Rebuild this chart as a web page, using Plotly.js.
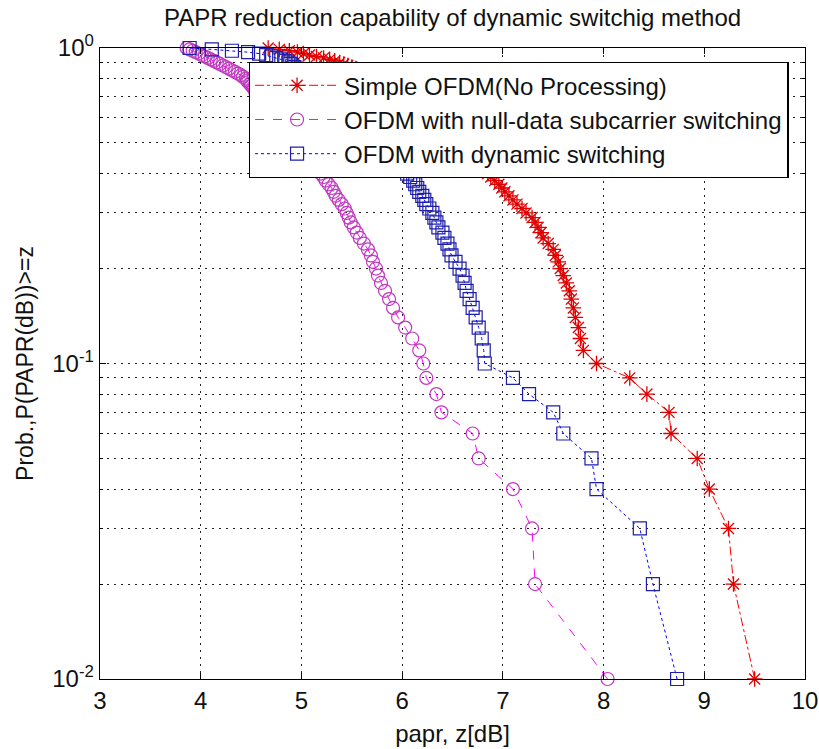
<!DOCTYPE html>
<html>
<head>
<meta charset="utf-8">
<script src="https://cdn.plot.ly/plotly-3.0.1.min.js"></script>
<style>html,body{margin:0;padding:0;background:#fff;}#chart{width:819px;height:749px;}</style>
</head>
<body>
<div id="chart"></div>
<script>
// Probability levels P(PAPR >= z), from 0.01 up to 1.00
const probLevels = [
 0.01,0.02,0.03,0.04,0.05,0.06,0.07,0.08,0.09,0.10,
 0.11,0.12,0.13,0.14,0.15,0.16,0.17,0.18,0.19,0.20,
 0.21,0.22,0.23,0.24,0.25,0.26,0.27,0.28,0.29,0.30,
 0.31,0.32,0.33,0.34,0.35,0.36,0.37,0.38,0.39,0.40,
 0.41,0.42,0.43,0.44,0.45,0.46,0.47,0.48,0.49,0.50,
 0.51,0.52,0.53,0.54,0.55,0.56,0.57,0.58,0.59,0.60,
 0.61,0.62,0.63,0.64,0.65,0.66,0.67,0.68,0.69,0.70,
 0.71,0.72,0.73,0.74,0.75,0.76,0.77,0.78,0.79,0.80,
 0.81,0.82,0.83,0.84,0.85,0.86,0.87,0.88,0.89,0.90,
 0.91,0.92,0.93,0.94,0.95,0.96,0.97,0.98,0.99,1.00
];

// PAPR z [dB] for each probability level
const paprSimple = [
 9.50,9.29,9.24,9.05,8.93,8.67,8.65,8.43,8.26,7.93,
 7.80,7.77,7.75,7.72,7.70,7.68,7.66,7.63,7.60,7.57,
 7.55,7.52,7.50,7.45,7.40,7.38,7.35,7.32,7.29,7.23,
 7.19,7.14,7.10,7.06,7.02,6.99,6.96,6.92,6.88,6.85,
 6.81,6.77,6.74,6.71,6.69,6.67,6.64,6.62,6.60,6.58,
 6.56,6.54,6.52,6.49,6.47,6.45,6.42,6.40,6.37,6.35,
 6.32,6.30,6.27,6.25,6.22,6.19,6.16,6.13,6.10,6.07,
 6.04,6.01,5.98,5.95,5.92,5.89,5.86,5.83,5.80,5.76,
 5.73,5.69,5.66,5.62,5.58,5.54,5.50,5.46,5.42,5.38,
 5.33,5.28,5.22,5.15,5.08,5.02,4.96,4.88,4.78,4.67
];
const paprNull = [
 8.04,7.32,7.29,7.10,6.76,6.70,6.39,6.34,6.24,6.21,
 6.17,6.10,6.03,5.96,5.91,5.87,5.83,5.79,5.76,5.74,
 5.71,5.69,5.66,5.62,5.58,5.55,5.52,5.49,5.47,5.45,
 5.43,5.40,5.37,5.34,5.32,5.30,5.27,5.24,5.22,5.19,
 5.16,5.14,5.12,5.10,5.08,5.06,5.04,5.02,5.00,4.98,
 4.96,4.94,4.92,4.90,4.88,4.86,4.84,4.82,4.80,4.78,
 4.76,4.74,4.72,4.70,4.68,4.66,4.64,4.62,4.60,4.58,
 4.57,4.56,4.54,4.53,4.52,4.50,4.49,4.47,4.46,4.45,
 4.42,4.40,4.37,4.34,4.31,4.28,4.25,4.22,4.19,4.16,
 4.13,4.10,4.07,4.04,4.01,3.98,3.95,3.92,3.89,3.86
];
const paprDynamic = [
 8.73,8.49,8.36,7.93,7.88,7.60,7.50,7.26,7.10,6.82,
 6.81,6.79,6.76,6.73,6.70,6.67,6.64,6.62,6.60,6.57,
 6.53,6.49,6.47,6.45,6.42,6.40,6.36,6.34,6.32,6.30,
 6.27,6.24,6.22,6.20,6.17,6.15,6.13,6.11,6.08,6.05,
 6.02,5.99,5.97,5.94,5.91,5.88,5.86,5.83,5.80,5.77,
 5.75,5.72,5.69,5.66,5.64,5.61,5.58,5.56,5.53,5.51,
 5.48,5.46,5.43,5.41,5.38,5.36,5.34,5.31,5.29,5.27,
 5.25,5.23,5.21,5.19,5.17,5.15,5.13,5.11,5.09,5.07,
 5.05,5.03,5.01,4.99,4.97,4.95,4.93,4.91,4.89,4.87,
 4.84,4.80,4.75,4.70,4.65,4.58,4.47,4.31,4.11,3.89
];

const seriesNames = [
 'Simple OFDM(No Processing)',
 'OFDM with null-data subcarrier switching',
 'OFDM with dynamic switching'
];

const xTicks = [3,4,5,6,7,8,9,10];
const yMajorTicks = [0.01, 0.1, 1];
const yMajorLabels = ['10<sup>-2</sup>','10<sup>-1</sup>','10<sup>0</sup>'];
const yMinorTicks = [0.02,0.03,0.04,0.05,0.06,0.07,0.08,0.09,0.2,0.3,0.4,0.5,0.6,0.7,0.8,0.9];

const FONT = 'Liberation Sans, Arial, sans-serif';
const gridDash = '2px,5px';
const gridColor = '#222';

const traces = [
 {
  x: paprSimple, y: probLevels, name: seriesNames[0], type: 'scatter', mode: 'lines+markers',
  cliponaxis: false,
  line: {color: '#ff0000', width: 1, dash: 'dashdot'},
  marker: {symbol: 'asterisk-open', size: 13, color: '#e00000', line: {color: '#e00000', width: 1.3}}
 },
 {
  x: paprNull, y: probLevels, name: seriesNames[1], type: 'scatter', mode: 'lines+markers',
  cliponaxis: false,
  line: {color: '#ff00ff', width: 1, dash: 'dash'},
  marker: {symbol: 'circle-open', size: 13, color: '#c038c0', line: {color: '#c038c0', width: 1.2}}
 },
 {
  x: paprDynamic, y: probLevels, name: seriesNames[2], type: 'scatter', mode: 'lines+markers',
  cliponaxis: false,
  line: {color: '#0000ff', width: 1, dash: 'dot'},
  marker: {symbol: 'square-open', size: 13, color: '#1e1eaa', line: {color: '#1e1eaa', width: 1.2}}
 }
];

const layout = {
 width: 819, height: 749,
 paper_bgcolor: '#ffffff', plot_bgcolor: '#ffffff',
 margin: {l: 100, r: 14, t: 48, b: 70},
 font: {family: FONT, color: '#111', size: 24},
 title: {
  text: 'PAPR reduction capability of dynamic switchig method',
  font: {family: FONT, size: 24, color: '#111'},
  x: 0.5526, xanchor: 'center', y: 0.977, yanchor: 'middle'
 },
 showlegend: true,
 legend: {
  x: 0.211, y: 0.978, xanchor: 'left', yanchor: 'top',
  bgcolor: '#ffffff', bordercolor: '#000', borderwidth: 1.3,
  font: {family: FONT, size: 24, color: '#111'},
  itemwidth: 84, tracegroupgap: 0
 },
 xaxis: {
  range: [3, 10], tickvals: xTicks, ticktext: xTicks.map(String),
  ticks: 'inside', ticklen: 6, tickcolor: '#000', tickwidth: 1,
  showline: true, linecolor: '#000', linewidth: 1.3, mirror: 'ticks',
  showgrid: true, gridcolor: gridColor, griddash: gridDash, gridwidth: 1,
  zeroline: false,
  tickfont: {family: FONT, size: 24, color: '#111'},
  title: {text: 'papr, z[dB]', font: {family: FONT, size: 24, color: '#111'}, standoff: 12}
 },
 yaxis: {
  type: 'log', range: [-2, 0],
  tickmode: 'array', tickvals: yMajorTicks, ticktext: yMajorLabels,
  ticks: 'inside', ticklen: 6, tickcolor: '#000', tickwidth: 1,
  showline: true, linecolor: '#000', linewidth: 1.3, mirror: 'ticks',
  showgrid: true, gridcolor: gridColor, griddash: gridDash, gridwidth: 1,
  zeroline: false,
  minor: {tickmode: 'array', tickvals: yMinorTicks, ticks: 'inside', ticklen: 3, tickcolor: '#000',
          showgrid: true, gridcolor: gridColor, griddash: gridDash, gridwidth: 1},
  tickfont: {family: FONT, size: 24, color: '#111'},
  title: {text: 'Prob.,P(PAPR(dB))>=z', font: {family: FONT, size: 23, color: '#111'}, standoff: 12}
 }
};

Plotly.newPlot('chart', traces, layout, {displayModeBar: false, staticPlot: true});
</script>
</body>
</html>
